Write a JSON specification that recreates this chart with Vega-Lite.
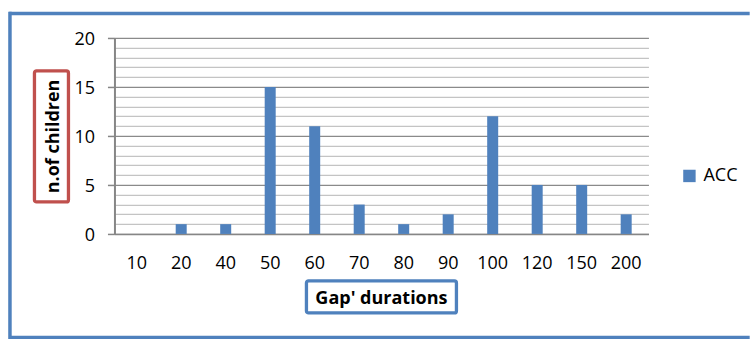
{
  "$schema": "https://vega.github.io/schema/vega-lite/v6.json",
  "padding": {"left": 7.45, "top": 10.95, "right": 0, "bottom": 0},
  "config": {
    "view": {"stroke": null},
    "font": "Open Sans",
    "concat": {"spacing": 0}
  },
  "bounds": "flush",
  "spacing": 0,
  "hconcat": [
    {
      "name": "frame_left",
      "width": 1,
      "height": 325,
      "view": {"stroke": "#4f81bd", "strokeWidth": 2.5, "fill": "#4f81bd"},
      "data": {"values": []},
      "mark": {"type": "text"}
    },
    {
      "bounds": "flush",
      "spacing": 0,
      "vconcat": [
        {
          "name": "frame_top",
          "width": 738,
          "height": 1,
          "view": {"stroke": "#4f81bd", "strokeWidth": 2.5, "fill": "#4f81bd"},
          "data": {"values": []},
          "mark": {"type": "text"}
        },
        {
          "bounds": "flush",
          "spacing": 0,
          "hconcat": [
            {"width": 24, "height": 1, "data": {"values": []}, "mark": {"type": "text"}},
            {
              "bounds": "flush",
              "spacing": 0,
              "vconcat": [
                {"width": 34, "height": 57, "data": {"values": []}, "mark": {"type": "text"}},
                {
                  "name": "y_title_box",
                  "width": 34,
                  "height": 131,
                  "view": {"stroke": "#c0504d", "strokeWidth": 3.3, "cornerRadius": 2},
                  "data": {"values": [{"label": "n.of children"}]},
                  "mark": {
                    "type": "text",
                    "angle": 270,
                    "font": "Open Sans",
                    "fontSize": 18,
                    "fontWeight": "bold",
                    "color": "#000000",
                    "dy": 3
                  },
                  "encoding": {"text": {"field": "label"}}
                }
              ]
            },
            {"width": 80, "height": 1, "data": {"values": []}, "mark": {"type": "text"}},
            {
              "bounds": "flush",
              "spacing": 0,
              "vconcat": [
                {"width": 534, "height": 24, "data": {"values": []}, "mark": {"type": "text"}},
                {
                  "name": "gap_chart",
                  "width": 534,
                  "height": 196,
                  "data": {
                    "values": [
                      {"gap": "10", "children": 0, "series": "ACC"},
                      {"gap": "20", "children": 1, "series": "ACC"},
                      {"gap": "40", "children": 1, "series": "ACC"},
                      {"gap": "50", "children": 15, "series": "ACC"},
                      {"gap": "60", "children": 11, "series": "ACC"},
                      {"gap": "70", "children": 3, "series": "ACC"},
                      {"gap": "80", "children": 1, "series": "ACC"},
                      {"gap": "90", "children": 2, "series": "ACC"},
                      {"gap": "100", "children": 12, "series": "ACC"},
                      {"gap": "120", "children": 5, "series": "ACC"},
                      {"gap": "150", "children": 5, "series": "ACC"},
                      {"gap": "200", "children": 2, "series": "ACC"}
                    ]
                  },
                  "mark": {"type": "bar", "size": 11},
                  "encoding": {
                    "x": {
                      "field": "gap",
                      "type": "nominal",
                      "sort": null,
                      "axis": {
                        "title": null,
                        "labelAngle": 0,
                        "labelFont": "Open Sans",
                        "labelFontSize": 18,
                        "labelColor": "#000000",
                        "labelPadding": 21,
                        "ticks": false,
                        "tickSize": 0,
                        "domainColor": "#868686",
                        "domainWidth": 1.5,
                        "grid": false
                      }
                    },
                    "y": {
                      "field": "children",
                      "type": "quantitative",
                      "scale": {"domain": [0, 20], "nice": false},
                      "axis": {
                        "title": null,
                        "values": [0, 1, 2, 3, 4, 5, 6, 7, 8, 9, 10, 11, 12, 13, 14, 15, 16, 17, 18, 19, 20],
                        "labelExpr": "datum.value % 5 === 0 ? datum.label : ''",
                        "labelOverlap": false,
                        "labelFont": "Open Sans",
                        "labelFontSize": 18,
                        "labelColor": "#000000",
                        "labelPadding": 13,
                        "labelOffset": 2,
                        "tickSize": 7,
                        "tickWidth": 1.5,
                        "tickColor": "#868686",
                        "tickOpacity": {"condition": {"test": "datum.value % 5 === 0", "value": 1}, "value": 0},
                        "domainColor": "#868686",
                        "domainWidth": 2,
                        "grid": true,
                        "gridColor": {"condition": {"test": "datum.value % 5 === 0", "value": "#8a8a8a"}, "value": "#c4c4c4"},
                        "gridWidth": {"condition": {"test": "datum.value % 5 === 0", "value": 1.3}, "value": 1.2}
                      }
                    },
                    "color": {
                      "field": "series",
                      "type": "nominal",
                      "scale": {"range": ["#4f81bd"]},
                      "legend": {
                        "title": null,
                        "orient": "none",
                        "legendX": 671,
                        "legendY": 154,
                        "padding": 0,
                        "symbolType": "square",
                        "symbolSize": 154,
                        "symbolStrokeWidth": 0,
                        "labelFont": "Open Sans",
                        "labelFontSize": 18,
                        "labelColor": "#000000",
                        "labelOffset": 5
                      }
                    }
                  }
                },
                {"width": 534, "height": 47, "data": {"values": []}, "mark": {"type": "text"}},
                {
                  "bounds": "flush",
                  "spacing": 0,
                  "hconcat": [
                    {"width": 192, "height": 32, "data": {"values": []}, "mark": {"type": "text"}},
                    {
                      "name": "x_title_box",
                      "width": 150,
                      "height": 32,
                      "view": {"stroke": "#4f81bd", "strokeWidth": 3.3, "cornerRadius": 2},
                      "data": {"values": [{"label": "Gap' durations"}]},
                      "mark": {
                        "type": "text",
                        "font": "Open Sans",
                        "fontSize": 18,
                        "fontWeight": "bold",
                        "color": "#000000",
                        "dy": 2
                      },
                      "encoding": {"text": {"field": "label"}}
                    }
                  ]
                }
              ]
            }
          ]
        },
        {"width": 1, "height": 323, "data": {"values": []}, "mark": {"type": "text"}},
        {
          "name": "frame_bottom",
          "width": 738,
          "height": 1,
          "view": {"stroke": "#4f81bd", "strokeWidth": 2.5, "fill": "#4f81bd"},
          "data": {"values": []},
          "mark": {"type": "text"}
        }
      ]
    }
  ]
}
